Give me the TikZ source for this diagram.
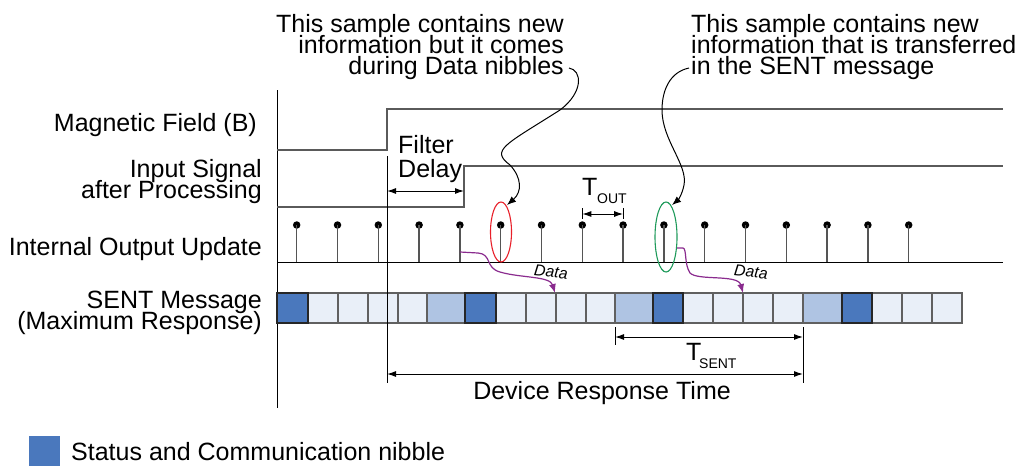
\documentclass[tikz,border=0pt]{standalone}
\usepackage{fontspec}
\setmainfont{Liberation Sans}
\usetikzlibrary{arrows.meta,shapes.geometric}
\definecolor{statusblue}{HTML}{4A78BD}
\definecolor{midblue}{HTML}{AFC4E3}
\definecolor{lightblue}{HTML}{E9EFF8}
\definecolor{wavegray}{HTML}{5A5A5A}
\definecolor{stemgray}{HTML}{555555}
\definecolor{cellborder}{HTML}{606060}
\definecolor{datapurple}{HTML}{8A2B8E}
\definecolor{ellred}{HTML}{E8202A}
\definecolor{ellgreen}{HTML}{1E9A5A}
\newcommand{\mytightlines}{\setlength{\lineskiplimit}{-30pt}\setlength{\lineskip}{0pt}}
\newcommand{\mylblfont}{\fontsize{25}{21}\selectfont\mytightlines}
\begin{document}
\begin{tikzpicture}[x=1pt,y=-1pt,
  lbl/.style={font=\mylblfont, inner sep=0pt},
  subl/.style={font=\fontsize{14}{14}\selectfont, inner sep=0pt},
  datalbl/.style={font=\fontsize{16}{16}\selectfont\itshape, inner sep=0pt, rotate=-6},
  wave/.style={draw=wavegray, line width=1.4pt},
  axisline/.style={draw=black, line width=1pt},
  stemline/.style={draw=stemgray, line width=1.3pt},
  dotnode/.style={circle, fill=black, inner sep=0pt, minimum size=7.5pt},
  cell/.style={draw=cellborder, line width=1.3pt},
  dimline/.style={draw=black, line width=1pt, {Latex[length=9pt,width=6pt]}-{Latex[length=9pt,width=6pt]}},
  dataarr/.style={draw=datapurple, line width=1.2pt, -{Latex[length=9pt,width=7pt]}},
  callout/.style={draw=black, line width=1pt, -{Latex[length=9pt,width=7pt]}},
  sampleell/.style={ellipse, draw, line width=1.1pt, inner sep=0pt},
]
\useasboundingbox (0,0) rectangle (1019,466);

% ---- left labels (base anchor = baseline of last line)
\node[lbl, anchor=base east] (lmf) at (257,131) {Magnetic Field (B)};
\node[lbl, anchor=base east, align=right] (lin) at (262,198) {Input Signal\\after Processing};
\node[lbl, anchor=base east] (lout) at (262,255) {Internal Output Update};
\node[lbl, anchor=base east, align=right] (lsent) at (262,329) {SENT Message\\(Maximum Response)};

% ---- axis
\coordinate (axtop) at (277,90);
\coordinate (axbot) at (277,408);
\draw[axisline] (axtop) -- (axbot);

% ---- magnetic field
\coordinate (mf0) at (277,150);
\coordinate (mf1) at (387,150);
\coordinate (mf2) at (387,109);
\coordinate (mf3) at (1003,109);
\draw[wave] (mf0) -- (mf1) -- (mf2) -- (mf3);

% ---- input signal after processing
\coordinate (in0) at (277,207);
\coordinate (in1) at (464,207);
\coordinate (in2) at (464,166);
\coordinate (in3) at (1003,166);
\draw[wave] (in0) -- (in1) -- (in2) -- (in3);

% ---- filter delay
\coordinate (fdtop) at (387,156);
\coordinate (fdbot) at (387,383);
\coordinate (fdL) at (387,191);
\coordinate (fdR) at (464,191);
\draw[dimline] (fdL) -- (fdR);
\node[lbl, anchor=base west, align=left] (fd) at (398,177) {Filter\\[3pt]Delay};

% ---- output update stems
\coordinate (bl0) at (277,262);
\coordinate (bl1) at (1003,262);
\foreach \i in {0,...,15}{
  \pgfmathsetmacro{\xs}{296.7+40.8*\i}
  \coordinate (sb\i) at (\xs,262);
  \node[dotnode] (sd\i) at (\xs,225) {};
  \draw[stemline] (sd\i.center) -- (sb\i);
}
\draw[axisline] (bl0) -- (bl1);

% ---- T_OUT
\coordinate (toL) at (582.3,214);
\coordinate (toR) at (623.1,214);
\coordinate (toLt) at (582.3,208);
\coordinate (toLb) at (582.3,219);
\coordinate (toRt) at (623.1,208);
\coordinate (toRb) at (623.1,219);
\draw[axisline] (toLt) -- (toLb);
\draw[axisline] (toRt) -- (toRb);
\draw[dimline] (toL) -- (toR);
\node[lbl, anchor=base west] (tout) at (582,195) {T};
\node[subl, anchor=base west] (toutsub) at (597,203) {OUT};

% ---- sample ellipses
\node[sampleell, draw=ellred, minimum width=21pt, minimum height=60pt] (redell) at (501,232) {};
\node[sampleell, draw=ellgreen, minimum width=22pt, minimum height=70pt] (greenell) at (666,237) {};

% ---- SENT message cells
\foreach \a/\b/\c in {308/338/lightblue, 338/368/lightblue, 368/398/lightblue, 398/427/lightblue,
  427/465/midblue, 496/526/lightblue, 526/556/lightblue, 556/586/lightblue, 586/615/lightblue,
  615/653/midblue, 683/713/lightblue, 713/743/lightblue, 743/773/lightblue, 773/803/lightblue,
  803/842/midblue, 872/902/lightblue, 902/932/lightblue, 932/962/lightblue}{
  \path[cell, fill=\c] (\a,293) rectangle (\b,323);
}
\foreach \a/\b in {277/308, 465/496, 653/683, 842/872}{
  \path[cell, draw=black!85, fill=statusblue] (\a,293) rectangle (\b,323);
}

% ---- device response time marker line (over cells)
\draw[axisline] (fdtop) -- (fdbot);

% ---- data arrows
\coordinate (d1s) at (459.9,252);
\coordinate (d1a) at (478,253);
\coordinate (d1b) at (500,272);
\coordinate (d1e) at (555,293);
\draw[dataarr] (d1s) -- (d1a) .. controls (492,254) and (485,268) .. (d1b) .. controls (520,278) and (550,276) .. (d1e);
\node[datalbl] (data1) at (551,272) {Data};

\coordinate (d2s) at (677,248);
\coordinate (d2a) at (683,248);
\coordinate (d2b) at (690,273);
\coordinate (d2e) at (743,293);
\draw[dataarr] (d2s) -- (d2a) .. controls (687,249) and (684,264) .. (d2b) .. controls (698,281) and (738,274) .. (d2e);
\node[datalbl] (data2) at (751,272) {Data};

% ---- T_SENT and device response time
\coordinate (tsLt) at (615,327);
\coordinate (tsLb) at (615,345);
\coordinate (tsRt) at (803,327);
\coordinate (tsRb) at (803,383);
\draw[axisline] (tsLt) -- (tsLb);
\draw[axisline] (tsRt) -- (tsRb);
\coordinate (tsL) at (615,337);
\coordinate (tsR) at (803,337);
\draw[dimline] (tsL) -- (tsR);
\node[lbl, anchor=base west] (tsent) at (686,360) {T};
\node[subl, anchor=base west] (tsentsub) at (699,368) {SENT};

\coordinate (drL) at (387,374);
\coordinate (drR) at (803,374);
\draw[dimline] (drL) -- (drR);
\node[lbl, anchor=base] (drt) at (602,399) {Device Response Time};

% ---- annotations
\node[lbl, anchor=base east, align=right] (a1) at (564,74) {This sample contains new\\information but it comes\\during Data nibbles};
\node[lbl, anchor=base west, align=left] (a2) at (691,74) {This sample contains new\\information that is transferred\\in the SENT message};

\coordinate (c1s) at (569,68);
\coordinate (c1a) at (560,110);
\coordinate (c1b) at (510,165);
\coordinate (c1e) at (507,205);
\draw[callout] (c1s) .. controls (582,70) and (584,92) .. (c1a) .. controls (505,145) and (490,150) .. (c1b) .. controls (522,178) and (522,192) .. (c1e);

\coordinate (c2s) at (689,68);
\coordinate (c2a) at (662,110);
\coordinate (c2b) at (684,185);
\coordinate (c2e) at (672,205);
\draw[callout] (c2s) .. controls (670,72) and (662,90) .. (c2a) .. controls (662,140) and (688,165) .. (c2b) .. controls (682,195) and (678,200) .. (c2e);

% ---- legend
\coordinate (lg0) at (29,436);
\coordinate (lg1) at (60,466);
\fill[statusblue] (lg0) rectangle (lg1);
\node[lbl, anchor=base west] (lgt) at (71,460) {Status and Communication nibble};
\end{tikzpicture}
\end{document}
